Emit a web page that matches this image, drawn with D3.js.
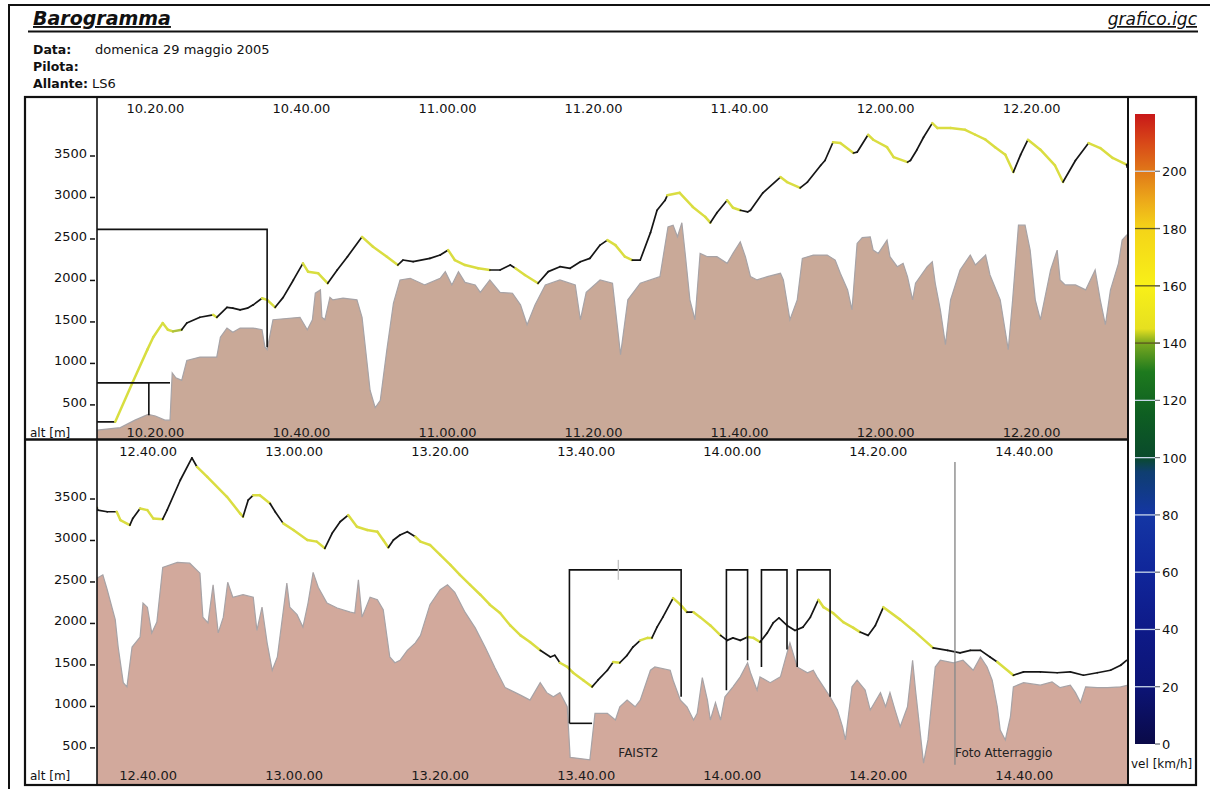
<!DOCTYPE html>
<html>
<head>
<meta charset="utf-8">
<script src="https://cdn.jsdelivr.net/npm/d3@7"></script>
<style>
  body { margin: 0; background: #fff; }
  svg { font-family: "DejaVu Sans", sans-serif; }
</style>
</head>
<body>
<svg id="chart" width="1210" height="789"></svg>
<script>
// times are minutes after 10:00, altitudes in metres, speeds in km/h
var flightTime = [12.1,14.5,16.9,18.9,19.7,21.0,21.7,22.4,23.6,24.3,26.1,27.9,28.4,29.8,30.6,31.6,32.6,33.4,34.6,35.3,
  36.4,37.5,38.9,40.2,40.9,42.3,43.6,44.9,46.3,48.3,49.8,51.7,53.2,53.9,55.3,57.6,59.0,60.1,61.0,62.4,
  64.2,65.8,67.2,68.6,69.3,70.6,72.4,73.8,75.4,76.8,78.2,79.5,80.9,81.9,83.0,84.3,85.3,86.4,87.8,88.7,
  89.8,90.1,91.8,93.6,95.3,96.0,96.9,98.3,99.1,100.1,101.1,101.5,103.2,105.6,106.5,108.3,109.3,111.1,111.7,112.8,
  113.8,115.6,116.1,117.6,118.3,120.2,121.1,123.0,123.4,124.3,125.2,126.4,127.1,128.9,130.9,132.3,133.7,135.0,136.4,137.5,
  138.5,139.5,141.2,143.2,144.3,146.0,147.8,149.4,151.1,153.0,
  153.1,154.4,155.7,156.2,157.5,157.9,158.9,159.9,160.7,162.0,162.6,164.4,166.0,166.7,168.1,170.8,172.6,173.0,173.7,174.4,
  175.3,176.7,177.4,178.5,179.9,181.8,183.1,184.2,185.2,186.3,187.4,188.6,190.0,191.4,192.2,192.9,193.6,194.5,195.5,196.6,
  197.3,198.6,200.0,201.4,202.7,204.1,205.5,206.8,208.2,209.6,211.0,212.3,213.7,215.1,215.7,216.4,217.4,218.2,219.6,220.8,
  221.6,222.9,223.7,224.6,225.6,226.4,227.4,228.4,229.0,229.7,230.5,231.9,232.9,233.8,234.7,235.6,237.0,238.4,239.3,240.1,
  241.1,242.1,242.9,243.8,244.8,245.6,246.4,247.5,248.6,249.7,250.7,251.8,252.5,253.8,255.2,256.6,257.5,258.6,259.6,260.7,
  263.0,264.8,267.5,269.5,271.2,272.6,274.0,275.3,276.3,278.5,279.9,282.2,284.5,286.3,288.1,290.0,291.8,293.2,294.0];

var flightAlt = [260,260,740,1130,1280,1450,1370,1350,1370,1450,1520,1550,1520,1640,1630,1610,1630,1670,1750,1730,
  1640,1760,1970,2170,2070,2050,1930,2090,2250,2490,2370,2250,2150,2210,2190,2230,2270,2330,2210,2150,
  2110,2090,2090,2150,2110,2030,1930,2070,2130,2110,2190,2230,2390,2450,2390,2250,2210,2210,2540,2810,
  2930,2990,3020,2850,2730,2660,2780,2930,2840,2810,2790,2810,3020,3210,3150,3080,3150,3350,3410,3630,
  3620,3500,3510,3720,3660,3570,3450,3390,3410,3540,3690,3860,3800,3800,3780,3720,3660,3570,3480,3270,
  3480,3660,3540,3350,3150,3410,3620,3560,3440,3360,
  3330,3310,3310,3210,3150,3230,3350,3330,3230,3220,3330,3690,3960,3850,3730,3490,3290,3250,3450,3510,
  3510,3410,3310,3170,3090,2970,2950,2870,3050,3190,3270,3130,3090,3070,2970,2880,2970,3030,3070,3010,
  2950,2910,2790,2670,2550,2430,2310,2190,2090,1940,1820,1740,1640,1560,1580,1490,1440,1370,1280,1200,
  1280,1400,1500,1490,1580,1680,1760,1790,1790,1920,2040,2270,2190,2100,2100,2040,1940,1820,1760,1790,
  1760,1800,1790,1740,1850,1970,2030,1940,1880,1920,2040,2250,2160,2090,1980,1910,1860,1820,1940,2160,
  2010,1880,1670,1640,1610,1640,1640,1560,1500,1340,1380,1380,1370,1380,1340,1370,1400,1460,1520];

var flightVel = [0,60,150,150,150,150,150,150,140,90,90,90,150,90,90,90,90,90,90,150,
  150,90,90,90,150,150,150,90,90,90,155,155,155,90,90,90,90,90,155,155,
  155,155,100,90,90,155,155,90,90,90,90,90,90,90,155,155,155,90,90,90,
  90,90,155,155,155,155,90,90,150,150,90,90,90,90,155,155,90,90,90,90,
  155,155,90,90,155,155,155,155,90,90,90,90,155,155,155,155,155,155,155,155,
  90,90,155,155,155,90,90,155,155,155,
  90,90,90,155,155,90,90,155,155,155,90,90,90,90,155,155,155,155,90,90,
  155,155,100,100,155,155,155,155,90,90,90,155,155,155,155,155,90,90,90,100,
  150,155,155,155,155,155,155,155,155,155,155,155,155,100,100,100,150,155,155,155,
  90,90,90,150,90,90,90,150,150,90,90,90,155,155,100,155,155,155,90,90,
  90,90,150,150,90,90,90,90,90,90,90,90,155,155,155,155,155,100,90,90,
  155,155,155,100,100,100,100,100,100,150,90,90,90,90,90,90,90,90,90];

var terrainTime = [12.0,15.2,17.2,19.0,20.0,21.3,22.0,22.3,22.8,23.6,24.3,26.1,28.4,28.9,29.8,30.6,31.6,33.4,34.6,35.0,
  35.3,36.1,39.8,40.8,41.5,41.9,42.6,42.8,43.2,43.9,44.3,45.7,47.6,48.3,49.4,50.1,50.8,51.7,52.6,53.5,
  54.9,56.9,59.0,59.7,60.6,61.5,62.4,63.8,64.5,65.8,67.2,68.9,70.0,70.9,72.0,73.4,75.4,77.5,78.2,79.0,
  80.9,82.6,83.7,84.7,86.4,89.1,90.2,90.9,91.5,92.1,92.6,93.2,93.9,94.6,95.6,96.9,98.3,99.1,100.1,100.8,
  101.5,102.4,103.8,105.6,106.0,106.9,107.9,108.6,110.1,112.0,113.1,113.8,114.8,115.4,116.1,116.8,117.9,118.3,119.0,120.2,
  120.6,121.6,122.4,123.0,123.7,124.1,125.7,126.4,126.8,127.5,128.2,128.9,130.2,131.6,132.3,133.7,134.3,135.7,136.8,137.4,
  138.2,139.1,139.8,140.5,141.2,142.6,143.5,143.9,144.6,146.0,147.4,148.7,149.4,150.1,150.8,151.9,152.4,153.0,
  153.8,154.4,155.5,155.9,156.6,157.1,157.8,158.9,159.3,159.9,160.5,161.2,162.0,164.0,165.7,167.1,167.5,168.2,168.9,169.6,
  170.3,170.9,171.6,173.0,174.4,174.9,175.6,176.3,177.0,177.7,178.3,179.0,179.4,180.4,181.2,181.9,182.6,183.3,184.5,185.9,
  187.7,188.3,188.8,189.3,190.4,191.4,192.2,193.1,193.8,194.5,195.5,196.6,197.3,198.6,200.0,201.0,202.0,203.4,204.8,206.2,
  207.5,208.9,211.0,212.3,213.7,214.6,215.5,216.4,217.4,217.8,220.5,221.2,222.9,224.0,224.6,225.6,226.7,227.4,228.8,229.4,
  231.5,231.9,232.9,233.8,234.7,235.2,235.9,236.6,237.0,237.7,238.4,239.0,240.1,241.1,242.1,242.5,243.4,243.8,245.2,246.6,
  247.5,247.9,248.9,250.3,251.1,251.6,252.5,253.4,254.4,255.1,255.5,256.4,257.1,258.2,258.9,260.3,261.0,261.6,262.3,263.0,
  264.0,264.7,265.1,265.8,266.2,266.8,267.8,268.5,270.3,271.6,273.0,274.0,274.9,275.6,276.3,276.7,277.4,278.1,278.5,279.9,
  282.2,283.8,284.9,286.3,287.0,287.7,288.4,290.0,291.4,293.2,294.2];

var terrainElev = [160,190,280,350,330,280,280,850,790,760,1000,1040,1040,1280,1390,1340,1390,1390,1370,1160,
  1130,1490,1520,1370,1490,1810,1850,1520,1490,1760,1730,1750,1730,1520,640,430,520,1130,1690,1970,
  1990,1910,1990,2070,1910,2070,1940,1910,1820,1970,1820,1810,1670,1430,1670,1910,1970,1910,1490,1820,
  1970,1930,1070,1730,1930,2010,2610,2630,2490,2660,2250,1730,1490,2290,2250,2250,2170,2290,2430,2250,
  2010,1970,2010,2050,1970,1490,1730,2230,2270,2270,2210,2050,1850,1610,2410,2480,2490,2330,2290,2450,
  2250,2130,2170,2010,1730,1930,2130,2190,1930,1610,1190,1730,2090,2270,2150,2270,2030,1730,1130,1730,
  2630,2630,2330,1730,1490,2090,2330,1970,1910,1910,1850,2090,1730,1430,1850,2170,2450,2510,
  2550,2370,2010,1680,1250,1200,1680,1800,2210,2160,1850,1980,2640,2700,2690,2570,2040,1970,2430,1850,
  2040,2460,2280,2310,2280,1880,2160,1730,1400,1560,1970,2450,2160,2070,1920,2210,2580,2400,2210,2150,
  2100,2090,2490,2040,2280,2250,2130,1560,1490,1520,1640,1730,1820,2190,2370,2430,2340,2100,1910,1670,
  1430,1190,1100,1040,1250,1130,1080,1130,960,350,320,880,880,800,960,1040,960,1040,1400,1440,
  1400,1280,1040,960,800,880,1310,1040,800,1010,800,1080,1200,1320,1490,1370,1160,1320,1250,1320,
  1610,1730,1440,1370,1400,1320,1200,1080,920,720,560,1200,1280,1160,920,1130,960,1130,920,720,
  960,1520,1160,600,280,560,1440,1520,1490,1520,1400,1560,1440,1280,960,680,560,840,1200,1250,
  1220,1260,1190,1220,1130,1010,1200,1190,1190,1200,1220];

// sector boxes: start/end time, top altitude, lower ends of the left and right sides
var zoneStart    = [12, 12, 217.7, 239.2, 244.0, 248.9];
var zoneEnd      = [35.3, 19.1, 233.0, 242.1, 247.5, 253.4];
var zoneTopEnd   = [35.3, 22.0, 233.0, 242.1, 247.5, 253.4];
var zoneTop      = [2580, 730, 2610, 2610, 2610, 2610];
var zoneLeftLow  = [null, null, 760, 1160, 1440, 1440];
var zoneRightLow = [1160, 340, 1080, 1520, 1650, 1080];
var zoneBaseEnd  = [null, null, 220.8, null, null, null];

var markerTime   = [224.4, 270.5];
var markerLabel  = ["FAIST2", "Foto Atterraggio"];
var markerHigh   = [2730, 3910];
var markerLow    = [2490, 260];

var timeTicksTop    = ["10.20.00","10.40.00","11.00.00","11.20.00","11.40.00","12.00.00","12.20.00"];
var timeTicksBottom = ["12.40.00","13.00.00","13.20.00","13.40.00","14.00.00","14.20.00","14.40.00"];
var altTicks = [500,1000,1500,2000,2500,3000,3500];
var velTicks = [0,20,40,60,80,100,120,140,160,180,200];
var velStops  = [0,20,40,60,80,95,100,115,130,140,145,160,180,190,200,210,220];
var velColors = ["#0a0a48","#0c1476","#0e1a88","#10269a","#1436a4","#0f3e70","#0a4a2c","#0e5e22","#1e7a1e",
                 "#7aa820","#e6e020","#f8f018","#f4d418","#eca81a","#e07818","#d84818","#c81818"];

var svg = d3.select("#chart");
var toMin = s => { var p = s.split("."); return (+p[0] - 10) * 60 + (+p[1]); };

var traceColor = d3.scaleLinear()
  .domain([0, 115, 135, 150, 170])
  .range(["#161616", "#161616", "#9ab43c", "#d8de40", "#e0da42"])
  .clamp(true);

var plotLeft = 97, plotRight = 1128;
var panels = [
  {t0: 12, t1: 153.2, top: 97, bottom: 438, clipTo: 439, ticks: timeTicksTop, fill: "#c9a998"},
  {t0: 153, t1: 294.2, top: 440, bottom: 781, clipTo: 785, ticks: timeTicksBottom, fill: "#d2a99c"}
];

var flight = flightTime.map((t, i) => ({t: t, alt: flightAlt[i], vel: flightVel[i]}));
var terrain = terrainTime.map((t, i) => ({t: t, elev: terrainElev[i]}));

panels.forEach(function(p, pi) {
  var x = d3.scaleLinear().domain([p.t0, p.t1]).range([plotLeft, plotRight]);
  var y = d3.scaleLinear().domain([65, 4175]).range([p.bottom, p.top]);

  svg.append("clipPath").attr("id", "clip" + pi)
    .append("rect")
    .attr("x", plotLeft).attr("y", p.top)
    .attr("width", plotRight - plotLeft).attr("height", p.clipTo - p.top);

  var g = svg.append("g").attr("clip-path", "url(#clip" + pi + ")");

  // terrain profile
  var area = d3.area().x(d => x(d.t)).y0(p.clipTo + 2).y1(d => y(d.elev));
  g.append("path").datum(terrain)
    .attr("d", area)
    .attr("fill", p.fill)
    .attr("stroke", "#a7a3a6")
    .attr("stroke-width", 1.2);

  // altitude trace coloured by speed
  var segs = d3.pairs(flight);
  g.selectAll(".seg").data(segs).enter().append("line")
    .attr("x1", d => x(d[0].t)).attr("y1", d => y(d[0].alt))
    .attr("x2", d => x(d[1].t)).attr("y2", d => y(d[1].alt))
    .attr("stroke", d => traceColor(d[1].vel))
    .attr("stroke-width", d => d[1].vel > 130 ? 2.5 : 1.7)
    .attr("stroke-linecap", "round");

  // sector boxes
  zoneStart.forEach(function(s, i) {
    var pts = [];
    if (zoneLeftLow[i] !== null) pts.push([x(s), y(zoneLeftLow[i])]);
    pts.push([x(s), y(zoneTop[i])]);
    pts.push([x(zoneEnd[i]), y(zoneTop[i])]);
    pts.push([x(zoneEnd[i]), y(zoneRightLow[i])]);
    g.append("path").attr("d", d3.line()(pts))
      .attr("fill", "none").attr("stroke", "#111").attr("stroke-width", 1.6);
    if (zoneTopEnd[i] > zoneEnd[i]) {
      g.append("path").attr("d", d3.line()([[x(zoneEnd[i]), y(zoneTop[i])], [x(zoneTopEnd[i]), y(zoneTop[i])]]))
        .attr("stroke", "#111").attr("stroke-width", 1.6);
    }
    if (zoneBaseEnd[i] !== null) {
      g.append("path").attr("d", d3.line()([[x(s), y(zoneLeftLow[i])], [x(zoneBaseEnd[i]), y(zoneLeftLow[i])]]))
        .attr("stroke", "#111").attr("stroke-width", 1.6);
    }
  });

  // markers
  markerTime.forEach(function(t, i) {
    if (t < p.t0 || t > p.t1) return;
    g.append("line")
      .attr("x1", x(t)).attr("x2", x(t))
      .attr("y1", y(markerHigh[i])).attr("y2", y(markerLow[i]))
      .attr("stroke", i === 0 ? "#c4c4c4" : "#8a8a8a").attr("stroke-width", 1.4);
    svg.append("text").attr("x", x(t)).attr("y", p.bottom - 24)
      .attr("font-size", 12).attr("fill", "#222").text(markerLabel[i]);
  });

  // time labels above and below
  p.ticks.forEach(function(lbl) {
    var tx = x(toMin(lbl));
    svg.append("text").attr("x", tx).attr("y", p.top + 16)
      .attr("text-anchor", "middle").attr("font-size", 13).attr("fill", "#111").text(lbl);
    svg.append("text").attr("x", tx).attr("y", p.bottom - 1)
      .attr("text-anchor", "middle").attr("font-size", 13).attr("fill", "#1a1a1a").text(lbl);
  });

  // altitude axis
  altTicks.forEach(function(v) {
    svg.append("text").attr("x", 87).attr("y", y(v) + 5)
      .attr("text-anchor", "end").attr("font-size", 13).attr("fill", "#111").text(v);
    svg.append("line").attr("x1", 90).attr("x2", 95).attr("y1", y(v) + 3).attr("y2", y(v) + 3)
      .attr("stroke", "#111").attr("stroke-width", 1.5);
  });
  svg.append("text").attr("x", 30).attr("y", p.bottom - 1)
    .attr("font-size", 12).attr("fill", "#111").text("alt [m]");
});

// frames
svg.append("rect").attr("x", 9).attr("y", 5).attr("width", 1210).attr("height", 800)
  .attr("fill", "none").attr("stroke", "#111").attr("stroke-width", 2);
svg.append("rect").attr("x", 25).attr("y", 97).attr("width", 1171).attr("height", 688)
  .attr("fill", "none").attr("stroke", "#111").attr("stroke-width", 2.2);
svg.append("line").attr("x1", 25).attr("x2", plotRight).attr("y1", 439.5).attr("y2", 439.5)
  .attr("stroke", "#111").attr("stroke-width", 2.6);
svg.append("line").attr("x1", plotLeft).attr("x2", plotLeft).attr("y1", 97).attr("y2", 785)
  .attr("stroke", "#111").attr("stroke-width", 1.6);
svg.append("line").attr("x1", plotRight).attr("x2", plotRight).attr("y1", 97).attr("y2", 785)
  .attr("stroke", "#111").attr("stroke-width", 2);

// colour bar
var vy = d3.scaleLinear().domain([0, 220]).range([744, 114]);
var grad = svg.append("defs").append("linearGradient").attr("id", "velGrad")
  .attr("x1", 0).attr("y1", 1).attr("x2", 0).attr("y2", 0);
velStops.forEach(function(v, i) {
  grad.append("stop").attr("offset", v / 220).attr("stop-color", velColors[i]);
});
svg.append("rect").attr("x", 1135).attr("y", vy(220)).attr("width", 20).attr("height", vy(0) - vy(220))
  .attr("fill", "url(#velGrad)");
velTicks.forEach(function(v) {
  var dark = v >= 130 && v <= 185;
  svg.append("line").attr("x1", v === 0 ? 1155 : 1135).attr("x2", 1160)
    .attr("y1", vy(v)).attr("y2", vy(v))
    .attr("stroke", dark ? "#5a5420" : "#c8d6ea").attr("stroke-width", 1.3);
  svg.append("line").attr("x1", 1155).attr("x2", 1160).attr("y1", vy(v)).attr("y2", vy(v))
    .attr("stroke", "#666").attr("stroke-width", 1);
  svg.append("text").attr("x", 1162).attr("y", vy(v) + 5)
    .attr("font-size", 13).attr("fill", "#111").text(v);
});
svg.append("text").attr("x", 1131).attr("y", 768).attr("font-size", 12).attr("fill", "#111").text("vel [km/h]");

// header
svg.append("text").attr("x", 33).attr("y", 25).attr("font-size", 19).attr("font-weight", "bold")
  .attr("font-style", "italic").attr("text-decoration", "underline").attr("fill", "#111").text("Barogramma");
svg.append("text").attr("x", 1197).attr("y", 25).attr("font-size", 17).attr("font-style", "italic")
  .attr("text-anchor", "end").attr("text-decoration", "underline").attr("fill", "#111").text("grafico.igc");
svg.append("line").attr("x1", 28).attr("x2", 1198).attr("y1", 31.5).attr("y2", 31.5)
  .attr("stroke", "#111").attr("stroke-width", 2);

var info = [["Data:", "domenica 29 maggio 2005", 54], ["Pilota:", "", 71], ["Allante:", "LS6", 88]];
info.forEach(function(r) {
  svg.append("text").attr("x", 33).attr("y", r[2]).attr("font-size", 12.5).attr("font-weight", "bold")
    .attr("fill", "#111").text(r[0]);
  svg.append("text").attr("x", r[0] === "Allante:" ? 92 : 95).attr("y", r[2]).attr("font-size", 13)
    .attr("fill", "#111").text(r[1]);
});
</script>
</body>
</html>
